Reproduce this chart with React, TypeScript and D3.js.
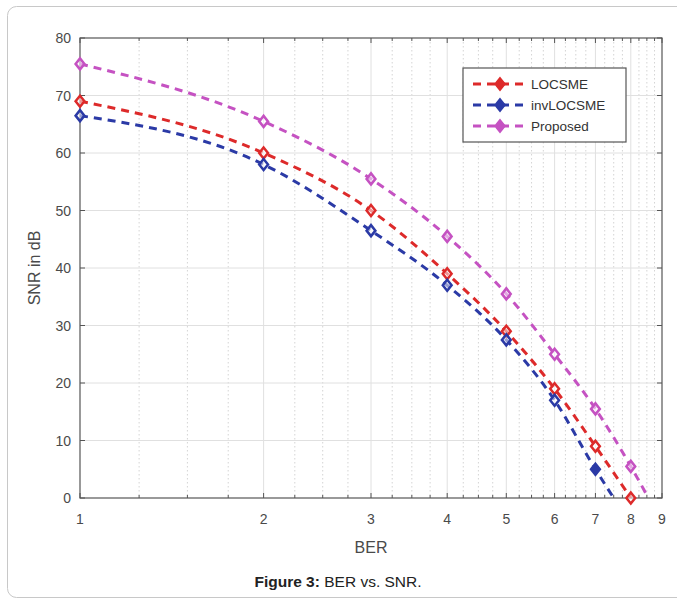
import React from "react";
import * as d3 from "d3";

const berValues = [1, 2, 3, 4, 5, 6, 7, 8];
const locsme = [69, 60, 50, 39, 29, 19, 9, 0];
const invLocsme = [66.5, 58, 46.5, 37, 27.5, 17, 5, null];
const proposed = [75.5, 65.5, 55.5, 45.5, 35.5, 25, 15.5, 5.5];
// where each dashed curve runs out at SNR 0
const locsmeTail: [number, number] | null = null;
const invTail: [number, number] | null = [7.5, 0];
const proposedTail: [number, number] | null = [8.55, 0];
const xTicks = [1, 2, 3, 4, 5, 6, 7, 8, 9];
const yTicks = [0, 10, 20, 30, 40, 50, 60, 70, 80];
const seriesNames = ["LOCSME", "invLOCSME", "Proposed"];
const seriesColors = ["#dd2a2a", "#2b3aa6", "#c552c2"];

const FONT = "Arial, 'Liberation Sans', Helvetica, sans-serif";

export default function App() {
  const W = 677, H = 603;
  const x = d3.scaleLog().domain([1, 9]).range([80, 662]);
  const y = d3.scaleLinear().domain([0, 80]).range([498, 38]);
  const [x0, x1] = x.range();
  const [yb, yt] = y.range();

  const minor: number[] = [];
  for (let i = 1; i < 9; i++) for (const q of [0.25, 0.5, 0.75]) minor.push(i + q);

  const allSeries = [locsme, invLocsme, proposed];
  const tails = [locsmeTail, invTail, proposedTail];

  const line = d3
    .line<[number, number]>()
    .x((d) => x(d[0]))
    .y((d) => y(d[1]))
    .curve(d3.curveMonotoneX);

  const diamond = (cx: number, cy: number, r = 5.5) =>
    `M${cx},${cy - r}L${cx + r * 0.8},${cy}L${cx},${cy + r}L${cx - r * 0.8},${cy}Z`;

  const legendX = 463, legendY = 68, legendW = 163, legendH = 74;
  const rows = [84, 105, 126];

  return (
    <div style={{ position: "absolute", left: 0, top: 0, width: W, height: H, background: "#fff" }}>
      <svg width={W} height={H} style={{ display: "block" }}>
        <rect x={7.5} y={6.5} width={700} height={591} rx={9} fill="#fff" stroke="#c8c8c8" strokeWidth={1} />
        <defs>
          <clipPath id="plotclip">
            <rect x={x0} y={yt} width={x1 - x0} height={yb - yt} />
          </clipPath>
        </defs>
        <rect x={x0} y={yt} width={x1 - x0} height={yb - yt} fill="#fff" />
        {/* minor vertical grid */}
        {minor.map((m) => (
          <line key={"m" + m} x1={x(m)} x2={x(m)} y1={yt} y2={yb} stroke="#d4d4d4" strokeWidth={1} strokeDasharray="1.5,2.5" />
        ))}
        {/* major grid */}
        {xTicks.slice(1, -1).map((t) => (
          <line key={"gx" + t} x1={x(t)} x2={x(t)} y1={yt} y2={yb} stroke="#e0e0e0" strokeWidth={1} />
        ))}
        {yTicks.slice(1, -1).map((t) => (
          <line key={"gy" + t} x1={x0} x2={x1} y1={y(t)} y2={y(t)} stroke="#e0e0e0" strokeWidth={1} />
        ))}
        {/* ticks */}
        {minor.map((m) => (
          <g key={"tm" + m}>
            <line x1={x(m)} x2={x(m)} y1={yb} y2={yb - 3} stroke="#555" />
            <line x1={x(m)} x2={x(m)} y1={yt} y2={yt + 3} stroke="#555" />
          </g>
        ))}
        {xTicks.map((t) => (
          <g key={"tx" + t}>
            <line x1={x(t)} x2={x(t)} y1={yb} y2={yb - 5} stroke="#555" />
            <line x1={x(t)} x2={x(t)} y1={yt} y2={yt + 5} stroke="#555" />
            <text x={x(t)} y={yb + 26} textAnchor="middle" fontFamily={FONT} fontSize={14} fill="#4a4a4a">
              {t}
            </text>
          </g>
        ))}
        {yTicks.map((t) => (
          <g key={"ty" + t}>
            <line x1={x0} x2={x0 + 5} y1={y(t)} y2={y(t)} stroke="#555" />
            <line x1={x1} x2={x1 - 5} y1={y(t)} y2={y(t)} stroke="#555" />
            <text x={x0 - 9} y={y(t) + 5} textAnchor="end" fontFamily={FONT} fontSize={14} fill="#4a4a4a">
              {t}
            </text>
          </g>
        ))}
        <rect x={x0} y={yt} width={x1 - x0} height={yb - yt} fill="none" stroke="#555" strokeWidth={1.2} />
        {/* series */}
        <g clipPath="url(#plotclip)">
          {allSeries.map((s, si) => {
            const pts: [number, number][] = [];
            s.forEach((v, i) => {
              if (v !== null) pts.push([berValues[i], v as number]);
            });
            const tail = tails[si];
            if (tail) pts.push(tail);
            return (
              <path key={"l" + si} d={line(pts) || ""} fill="none" stroke={seriesColors[si]} strokeWidth={3} strokeDasharray="8,6" />
            );
          })}
        </g>
        {allSeries.map((s, si) =>
          s.map((v, i) =>
            v === null ? null : (
              <path
                key={"p" + si + "-" + i}
                d={diamond(x(berValues[i]), y(v as number))}
                fill={i === 6 && si === 1 ? seriesColors[si] : "#fff"}
                fillOpacity={i === 6 && si === 1 ? 1 : 0.5}
                stroke={seriesColors[si]}
                strokeWidth={2.5}
              />
            )
          )
        )}
        {/* legend */}
        <rect x={legendX} y={legendY} width={legendW} height={legendH} fill="#fff" stroke="#555" strokeWidth={1.2} />
        {seriesNames.map((n, i) => (
          <g key={"lg" + n}>
            <line x1={473} x2={527} y1={rows[i]} y2={rows[i]} stroke={seriesColors[i]} strokeWidth={3} strokeDasharray="8,6" />
            <path d={diamond(500, rows[i])} fill={seriesColors[i]} stroke={seriesColors[i]} strokeWidth={2.5} />
            <text x={531} y={rows[i] + 5} fontFamily={FONT} fontSize={13.5} fill="#333">
              {n}
            </text>
          </g>
        ))}
        {/* axis titles */}
        <text x={371} y={553} textAnchor="middle" fontFamily={FONT} fontSize={16} fill="#4a4a4a">
          BER
        </text>
        <text
          transform={`translate(40,${(yt + yb) / 2}) rotate(-90)`}
          textAnchor="middle"
          fontFamily={FONT}
          fontSize={16}
          fill="#4a4a4a"
        >
          SNR in dB
        </text>
        <text x={338} y={587} textAnchor="middle" fontFamily={FONT} fontSize={15.5} fill="#222">
          <tspan fontWeight="bold">Figure 3:</tspan>
          <tspan> BER vs. SNR.</tspan>
        </text>
      </svg>
    </div>
  );
}
